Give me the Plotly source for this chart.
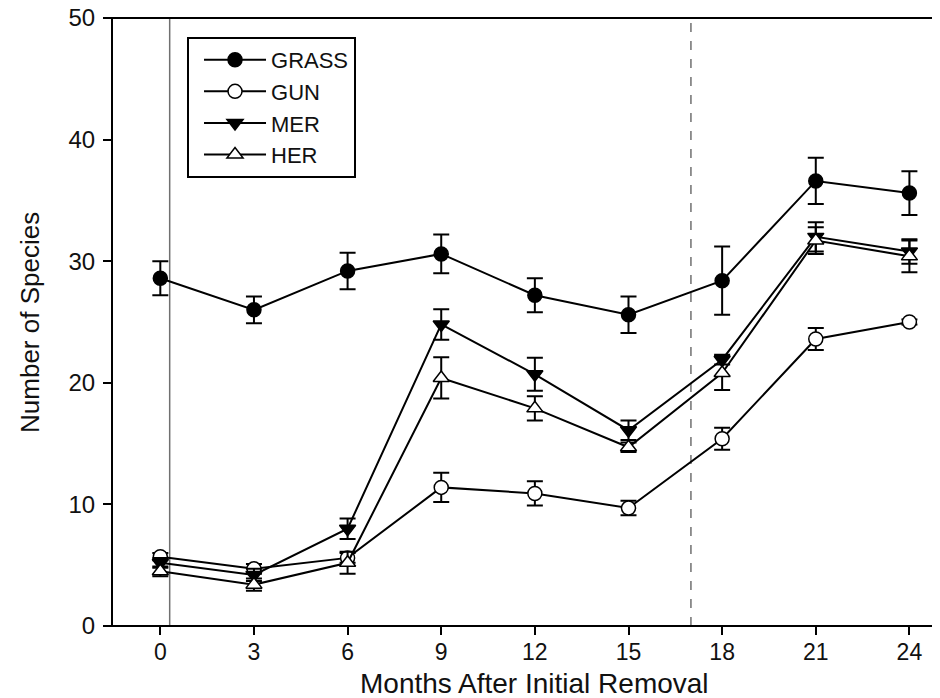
import plotly.graph_objects as go

months = [0, 3, 6, 9, 12, 15, 18, 21, 24]
x_ticks = [0, 3, 6, 9, 12, 15, 18, 21, 24]

grass = [28.6, 26.0, 29.2, 30.6, 27.2, 25.6, 28.4, 36.6, 35.6]
grass_se = [1.4, 1.1, 1.5, 1.6, 1.4, 1.5, 2.8, 1.9, 1.8]
gun = [5.7, 4.7, 5.6, 11.4, 10.9, 9.7, 15.4, 23.6, 25.0]
gun_se = [0.3, 0.4, 0.4, 1.2, 1.0, 0.6, 0.9, 0.9, 0.2]
mer = [5.2, 4.2, 8.0, 24.8, 20.7, 16.1, 21.9, 32.0, 30.8]
mer_se = [0.4, 0.5, 0.85, 1.25, 1.35, 0.8, 0.4, 1.2, 1.0]
her = [4.5, 3.4, 5.2, 20.4, 17.9, 14.7, 20.8, 31.7, 30.4]
her_se = [0.4, 0.5, 0.9, 1.7, 1.0, 0.4, 1.4, 1.1, 1.3]

series = [
    ("GRASS", grass, grass_se, "circle", "black"),
    ("GUN", gun, gun_se, "circle", "white"),
    ("MER", mer, mer_se, "triangle-down", "black"),
    ("HER", her, her_se, "triangle-up", "white"),
]

treatment_line_x = 0.3
dashed_line_x = 17

FONT = "Liberation Sans, Arial, sans-serif"

fig = go.Figure()
for name, vals, se, sym, fill in series:
    fig.add_trace(go.Scatter(
        x=months, y=vals, name=name, mode="lines+markers",
        line=dict(color="black", width=2),
        marker=dict(symbol=sym, size=14, color=fill,
                    line=dict(color="black", width=1.5)),
        error_y=dict(type="data", array=se, visible=True,
                     color="black", thickness=2, width=8),
        legendgroup=name,
    ))

fig.add_shape(type="line", xref="x", yref="y", x0=treatment_line_x, x1=treatment_line_x,
              y0=0, y1=50, line=dict(color="#707070", width=1.5), layer="below")
fig.add_shape(type="line", xref="x", yref="y", x0=dashed_line_x, x1=dashed_line_x,
              y0=0, y1=50, line=dict(color="#707070", width=1.5, dash="dash"), layer="below")
# bottom and top frame lines, overhanging the y axis slightly (SigmaPlot style)
for yy in (0, 1):
    fig.add_shape(type="line", xref="paper", yref="paper", x0=-0.00967, x1=1,
                  y0=yy, y1=yy, line=dict(color="black", width=2), layer="above")

# page body has an 8px margin; figure is sized/offset to compensate
fig.update_layout(
    width=932, height=690,
    margin=dict(l=105, r=0, t=10, b=72, autoexpand=False),
    paper_bgcolor="white", plot_bgcolor="white",
    font=dict(family=FONT, size=24, color="#111"),
    showlegend=True,
    legend=dict(x=0.0895, y=0.9688, xanchor="left", yanchor="top",
                bordercolor="black", borderwidth=2, bgcolor="white",
                font=dict(size=22, family=FONT), traceorder="grouped",
                tracegroupgap=0, itemwidth=62, indentation=10),
    xaxis=dict(range=[-1.516, 24.98], tickvals=x_ticks, ticks="outside",
               ticklen=8, tickwidth=2, tickcolor="black", automargin=False,
               showline=False, showgrid=False, zeroline=False,
               tickfont=dict(size=23), ticklabelstandoff=-3),
    yaxis=dict(range=[0, 50], dtick=10, ticks="outside", ticklen=8,
               tickwidth=2, tickcolor="black", ticklabeloverflow="allow",
               ticklabelstandoff=3, automargin=False,
               showline=True, linecolor="black", linewidth=2,
               showgrid=False, zeroline=False, tickfont=dict(size=24)),
    annotations=[
        dict(text="Number of Species", xref="paper", yref="paper",
             x=-0.1004, y=0.5, xanchor="center", yanchor="middle",
             textangle=-90, showarrow=False,
             font=dict(size=26, family=FONT)),
        dict(text="Months After Initial Removal", xref="paper", yref="paper",
             x=0.510, y=-0.0938, xanchor="center", yanchor="middle",
             showarrow=False, font=dict(size=28, family=FONT)),
    ],
)

fig.write_html("out.html")
